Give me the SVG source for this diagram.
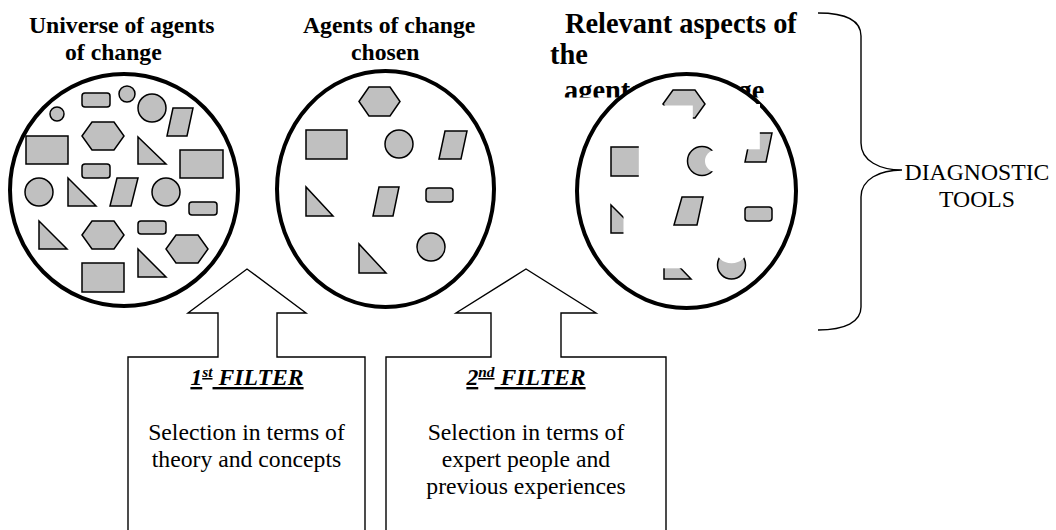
<svg xmlns="http://www.w3.org/2000/svg" width="1056" height="530" viewBox="0 0 1056 530">
<style>
.shape{fill:#c0c0c0;stroke:#000;stroke-width:1.5}
.ring{fill:#fff;stroke:#000;stroke-width:4}
.cover{fill:#fff;stroke:none}
.title{font-family:"Liberation Serif","Times New Roman",serif;font-weight:bold;font-size:23.7px;fill:#000}
.big{font-size:28.4px}
.body{font-family:"Liberation Serif","Times New Roman",serif;font-size:23.7px;text-anchor:middle;fill:#000}
.filt{font-family:"Liberation Serif","Times New Roman",serif;font-size:23.7px;font-weight:bold;font-style:italic;text-anchor:middle;text-decoration:underline;fill:#000}
.outline{fill:#fff;stroke:#000;stroke-width:1.4;stroke-linejoin:miter}
.brace{fill:none;stroke:#000;stroke-width:1.4}
</style>
<defs>
<clipPath id="t3clip"><rect x="540" y="0" width="280" height="97.5"/></clipPath>
</defs>
<rect width="1056" height="530" fill="#fff"/>

<g id="title-universe">
<text class="title" x="29" y="33">Universe of agents</text>
<text class="title" x="65" y="60">of change</text>
</g>
<g id="title-chosen">
<text class="title" x="303" y="33">Agents of change</text>
<text class="title" x="351" y="60">chosen</text>
</g>
<g id="title-relevant" clip-path="url(#t3clip)">
<text class="title big" x="565" y="33">Relevant aspects of</text>
<text class="title big" x="550" y="64">the</text>
<text class="title big" x="564" y="100">agents of change</text>
</g>

<g id="universe">
<ellipse class="ring" cx="124" cy="190" rx="114" ry="116"/>
<circle class="shape" cx="57" cy="114" r="7"/>
<rect class="shape" x="82" y="93" width="28" height="14" rx="3"/>
<circle class="shape" cx="127" cy="94" r="8"/>
<circle class="shape" cx="152" cy="108" r="14"/>
<polygon class="shape" points="173,108 193,108 187,136 167,136"/>
<rect class="shape" x="26" y="136" width="42" height="28"/>
<polygon class="shape" points="82,136 92,122 114,122 124,136 114,150 92,150"/>
<polygon class="shape" points="138,137 138,164 166,164"/>
<rect class="shape" x="180" y="150" width="43" height="28"/>
<rect class="shape" x="82" y="164" width="28" height="14" rx="3"/>
<circle class="shape" cx="39" cy="192" r="14"/>
<polygon class="shape" points="68,178 68,206 96,206"/>
<polygon class="shape" points="117,178 138,178 131,206 110,206"/>
<circle class="shape" cx="166" cy="192" r="14"/>
<rect class="shape" x="189" y="202" width="28" height="13" rx="3"/>
<polygon class="shape" points="39,221 39,249 67,249"/>
<polygon class="shape" points="82,235 92,221 114,221 124,235 114,249 92,249"/>
<rect class="shape" x="138" y="221" width="28" height="13" rx="3"/>
<polygon class="shape" points="166,249 176,235 198,235 208,249 198,263 176,263"/>
<polygon class="shape" points="138,249 138,277 166,277"/>
<rect class="shape" x="82" y="263" width="42" height="29"/>
</g>

<g id="chosen">
<ellipse class="ring" cx="385.5" cy="189" rx="108.5" ry="118"/>
<polygon class="shape" points="359,101.5 369,87 390,87 400,101.5 390,116 369,116"/>
<rect class="shape" x="306" y="130" width="41" height="29"/>
<circle class="shape" cx="399" cy="144" r="14"/>
<polygon class="shape" points="445,131 467,131 461,159 439,159"/>
<polygon class="shape" points="306,187 306,216 333,216"/>
<polygon class="shape" points="379,187 399,187 393,216 373,216"/>
<rect class="shape" x="426" y="188" width="27" height="14" rx="3"/>
<circle class="shape" cx="431" cy="247" r="14"/>
<polygon class="shape" points="359,244 359,273 386,273"/>
</g>

<g id="relevant">
<ellipse class="ring" cx="686.5" cy="191" rx="109.5" ry="117"/>
<rect class="cover" x="756.5" y="104" width="3.5" height="8"/>
<polygon class="shape" points="663,104 673,90 695,90 705,104 695,118 673,118"/>
<rect class="cover" x="655" y="105.5" width="37.8" height="20"/>
<rect class="shape" x="611" y="147" width="42" height="29"/>
<rect class="cover" x="638.8" y="140" width="20" height="42"/>
<circle class="shape" cx="702" cy="161" r="14.5"/>
<circle class="cover" cx="716" cy="161" r="11"/>
<polygon class="shape" points="751,133 772,133 766,162 745,162"/>
<rect class="cover" x="740" y="125" width="19.8" height="24.3"/>
<polygon class="shape" points="611,205 611,233 639,233"/>
<rect class="cover" x="623.5" y="200" width="20" height="40"/>
<polygon class="shape" points="682,197 703,197 697,225 674,225"/>
<rect class="shape" x="745" y="207" width="27" height="14" rx="3"/>
<polygon class="shape" points="664,251 664,279 691,279"/>
<rect class="cover" x="658" y="245" width="40" height="23.3"/>
<circle class="shape" cx="731.5" cy="265" r="14"/>
<circle class="cover" cx="731.5" cy="246.6" r="16.7"/>
</g>

<g id="filter1">
<polygon class="outline" points="128,540 128,357 218,357 218,313 188,313 247,269 306,313 277,313 277,357 365,357 365,540"/>
<text class="filt" x="247" y="385">1<tspan font-size="15.4" baseline-shift="super">st</tspan> FILTER</text>
<text class="body" x="246.5" y="440">Selection in terms of</text>
<text class="body" x="246.5" y="467">theory and concepts</text>
</g>

<g id="filter2">
<polygon class="outline" points="386,540 386,357 491,357 491,313 456,313 526,269 596,313 561,313 561,357 666,357 666,540"/>
<text class="filt" x="526" y="385">2<tspan font-size="15.4" baseline-shift="super">nd</tspan> FILTER</text>
<text class="body" x="526" y="440">Selection in terms of</text>
<text class="body" x="526" y="467">expert people and</text>
<text class="body" x="526" y="494">previous experiences</text>
</g>

<g id="connectors">
<path class="brace" d="M 818 13 C 845 13 861 20 861 36 L 861 143 C 861 161 880 170 902 170 C 880 170 861 179 861 197 L 861 307 C 861 322 845 330 818 330"/>
</g>

<g id="diagnostic-tools">
<text class="body" x="977" y="180">DIAGNOSTIC</text>
<text class="body" x="977" y="207">TOOLS</text>
</g>
</svg>
